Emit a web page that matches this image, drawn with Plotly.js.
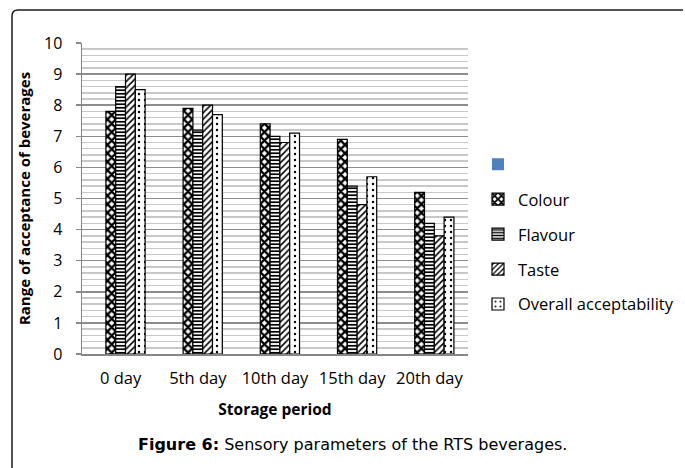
<!DOCTYPE html>
<html>
<head>
<meta charset="utf-8">
<script src="https://cdn.plot.ly/plotly-3.0.1.min.js"></script>
<style>
  html, body { margin: 0; padding: 0; background: #fff; }
  #chart { width: 685px; height: 468px; }
</style>
</head>
<body>
<div id="chart"></div>
<script>
// ---- data ----
const categories = ["0 day", "5th day", "10th day", "15th day", "20th day"];
const seriesNames = ["Colour", "Flavour", "Taste", "Overall acceptability"];
const colourVals  = [7.8, 7.9, 7.4, 6.9, 5.2];
const flavourVals = [8.6, 7.2, 7.0, 5.4, 4.2];
const tasteVals   = [9.0, 8.0, 6.8, 4.8, 3.8];
const overallVals = [8.5, 7.7, 7.1, 5.7, 4.4];
const emptyVals   = [null, null, null, null, null];
const yTickVals   = [0, 1, 2, 3, 4, 5, 6, 7, 8, 9, 10];
const xTitle = "Storage period";
const yTitle = "Range of acceptance of beverages";
const caption = "<b>Figure 6:</b> Sensory parameters of the RTS beverages.";

// ---- layout geometry ----
const W = 685, H = 468;
const ML = 82, MR = 217, MT = 43, MB = 114;
const PW = W - ML - MR, PH = H - MT - MB;
const px = x => (x - ML) / PW;
const py = y => (H - MB - y) / PH;

const FONT = "'Open Sans', Lato, sans-serif";

function barTrace(name, vals, shape, size, solidity) {
  return {
    type: "bar", name: name, x: categories, y: vals,
    legendgroup: name,
    marker: {
      color: "#ffffff",
      line: { color: "#000000", width: 1.2 },
      pattern: { shape: shape, fgcolor: "#000000", bgcolor: "#ffffff",
                 size: size, solidity: solidity, fillmode: "replace" }
    },
    hoverinfo: "x+y+name"
  };
}

const traces = [
  { type: "bar", name: "", x: categories, y: emptyVals, legendgroup: "blank",
    marker: { color: "#4F81BD", line: { width: 0 } } },
  barTrace(seriesNames[0], colourVals, "x", 6, 0.62),
  barTrace(seriesNames[1], flavourVals, "-", 3.5, 0.5),
  barTrace(seriesNames[2], tasteVals, "/", 4.5, 0.35),
  barTrace(seriesNames[3], overallVals, ".", 6, 0.12)
];

// frame (top + left border with rounded corner)
const fx = 12, fy = 10, fr = 6, fxe = 683, fye = 468;
const framePath = "M " + px(fx) + "," + py(fye) +
  " L " + px(fx) + "," + py(fy + fr) +
  " Q " + px(fx) + "," + py(fy) + " " + px(fx + fr) + "," + py(fy) +
  " L " + px(fxe) + "," + py(fy);

const layout = {
  width: W, height: H,
  margin: { l: ML, r: MR, t: MT, b: MB, pad: 0, autoexpand: false },
  paper_bgcolor: "#ffffff", plot_bgcolor: "#ffffff",
  font: { family: FONT, size: 16, color: "#000000" },
  barmode: "group", bargap: 0.365, bargroupgap: 0,
  showlegend: true,
  legend: {
    x: px(478), y: py(147), xanchor: "left", yanchor: "top",
    font: { family: FONT, size: 16.5, color: "#000" },
    tracegroupgap: 10.5, bgcolor: "rgba(0,0,0,0)", traceorder: "grouped"
  },
  xaxis: {
    type: "category", showline: true, linecolor: "#868686", linewidth: 1.5,
    ticks: "outside", ticklen: 9, tickcolor: "rgba(0,0,0,0)",
    showgrid: false, zeroline: false,
    tickfont: { family: FONT, size: 16.5 },
    title: { text: "<b>" + xTitle + "</b>", font: { family: FONT, size: 15.5 }, standoff: 16 }
  },
  yaxis: {
    range: [0, 10], tickvals: yTickVals, ticktext: yTickVals.map(String),
    showline: true, linecolor: "#868686", linewidth: 1.5,
    ticks: "outside", ticklen: 5, tickcolor: "#868686", tickwidth: 1.5,
    ticklabelstandoff: 10,
    showgrid: true, gridcolor: "#8c8c8c", gridwidth: 1.5, zeroline: false,
    minor: { dtick: 0.2, showgrid: true, gridcolor: "#c8c8c8", gridwidth: 1.5, ticks: "" },
    tickfont: { family: FONT, size: 16 },
    title: { text: "<b>" + yTitle + "</b>", font: { family: FONT, size: 15 }, standoff: 10 }
  },
  shapes: [
    { type: "path", xref: "paper", yref: "paper", path: framePath,
      line: { color: "#1a1a1a", width: 1.5 }, layer: "above" }
  ],
  annotations: [
    { xref: "paper", yref: "paper", x: px(352), y: py(444),
      xanchor: "center", yanchor: "middle", showarrow: false,
      text: caption, font: { family: "'DejaVu Sans', 'Liberation Sans', sans-serif", size: 16, color: "#000" } }
  ]
};

Plotly.newPlot("chart", traces, layout, { staticPlot: true, displayModeBar: false });
</script>
</body>
</html>
